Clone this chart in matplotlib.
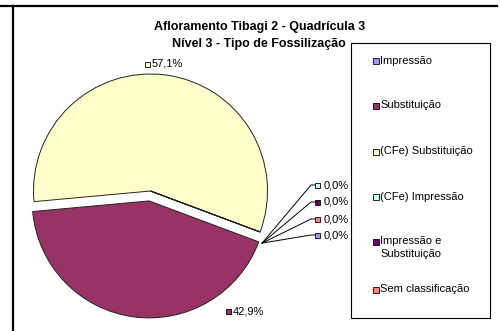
import matplotlib
matplotlib.use("Agg")
import matplotlib.pyplot as plt
from matplotlib.patches import Rectangle
from matplotlib.lines import Line2D
import numpy as np

plt.rcParams['font.family'] = ['Liberation Sans', 'DejaVu Sans']

# Fossilization categories (pie order) and counts
categories = ["Impressão", "Substituição", "(CFe) Substituição",
              "(CFe) Impressão", "Impressão e\nSubstituição", "Sem classificação"]
counts = [0, 3, 4, 0, 0, 0]
colors = ["#9999FF", "#993366", "#FFFFCC", "#CCFFFF", "#660066", "#FF8080"]
explode = [0, 10, 0, 0, 0, 0]

title_lines = ["Afloramento Tibagi 2 - Quadrícula 3", "Nível 3 - Tipo de Fossilização"]

W, H = 500, 331
fig = plt.figure(figsize=(W / 100, H / 100), dpi=100)
ax = fig.add_axes([0, 0, 1, 1])


def Y(y):
    return H - y


R = 117
center = (150.5, Y(191))
total = sum(counts)
wedges, _ = ax.pie(counts, colors=colors, startangle=-20.5, counterclock=False,
                   radius=R, center=center, frame=True, explode=explode,
                   wedgeprops=dict(edgecolor='#222222', linewidth=0.7))
ax.set_xlim(0, W)
ax.set_ylim(0, H)
ax.set_aspect('equal')
ax.axis('off')


def pct(v):
    return f"{v / total * 100:.1f}%".replace('.', ',')


def label_box(x, y, color, text, gap=7):
    ax.add_patch(Rectangle((x, Y(y) - 2.5), 5, 5, facecolor=color,
                           edgecolor='black', linewidth=0.6, zorder=5))
    ax.text(x + gap, Y(y), text, fontsize=8, va='center', ha='left', zorder=5)


# labels of the non-zero slices
label_box(145, 64, colors[2], pct(counts[2]))
label_box(226, 311, colors[1], pct(counts[1]))

# leader lines and labels of the empty slices
w_sub = wedges[1]
cx, cy = w_sub.center
th = np.deg2rad(w_sub.theta2)
anchor = (cx + 1.03 * R * np.cos(th), cy + 1.03 * R * np.sin(th))
zero_rows = [(3, 185), (4, 202), (5, 219), (0, 235)]
for idx, yy in zero_rows:
    ax.add_line(Line2D([anchor[0], 311, 315], [anchor[1], Y(yy), Y(yy)],
                       color='black', linewidth=0.7, zorder=4))
    label_box(315, yy, colors[idx], pct(counts[idx]), gap=9)

# title
ax.text(260, Y(30), title_lines[0], fontsize=9, fontweight='bold',
        ha='center', va='baseline')
ax.text(259, Y(47), title_lines[1], fontsize=9, fontweight='bold',
        ha='center', va='baseline')

# legend frame and entries
ax.add_patch(Rectangle((351, Y(318)), 139, 275, facecolor='white',
                       edgecolor='black', linewidth=0.8, zorder=3))
legend_y = [61, 106, 152, 197, 242, 290]
for name, col, yy in zip(categories, colors, legend_y):
    ax.add_patch(Rectangle((372.5, Y(yy) - 3), 6, 6, facecolor=col,
                           edgecolor='black', linewidth=0.6, zorder=4))
    ax.text(380, Y(yy) + 5.5, name, fontsize=8, ha='left', va='top',
            linespacing=1.35, zorder=4)

# outer frame lines
ax.add_line(Line2D([0, 497], [Y(5.5), Y(5.5)], color='black', linewidth=1.6))
ax.add_line(Line2D([13, 13], [Y(5.5), 0], color='black', linewidth=1.6))

fig.savefig("out.png", dpi=100)
